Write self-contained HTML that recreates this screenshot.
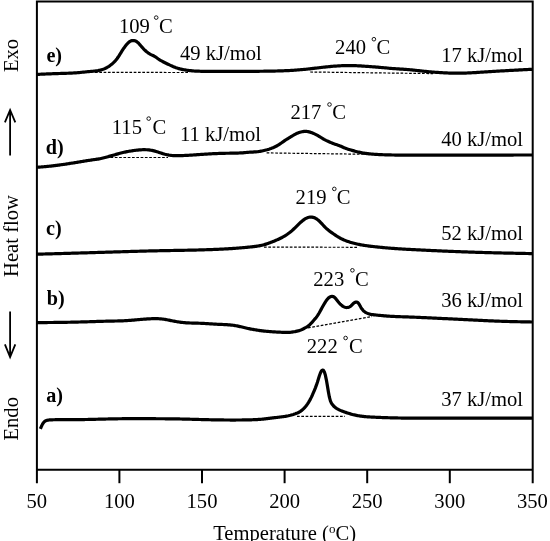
<!DOCTYPE html>
<html><head><meta charset="utf-8"><style>
html,body{margin:0;padding:0;background:#fff;width:550px;height:541px;overflow:hidden}
svg{display:block;filter:grayscale(1)}
</style></head><body>
<svg width="550" height="541" viewBox="0 0 550 541">
<rect width="550" height="541" fill="#fff"/>
<g stroke="#000" stroke-width="2" fill="none" stroke-linecap="butt">
<path d="M36.9 0.5 V483.2 M532.7 0.5 V483.2 M35.9 1.5 H533.7 M35.9 469.8 H533.7"/>
<path d="M119.4 469.8 V483.2"/>
<path d="M202.0 469.8 V483.2"/>
<path d="M284.6 469.8 V483.2"/>
<path d="M367.2 469.8 V483.2"/>
<path d="M449.8 469.8 V483.2"/>
</g>
<g stroke="#000" stroke-width="1.2" fill="none" stroke-dasharray="2.7 1.6">
<path d="M95.0 72.4 L188.0 72.5"/>
<path d="M310.2 72.0 L433.0 73.6"/>
<path d="M110.5 157.5 L168.0 157.5"/>
<path d="M266.6 152.9 L367.8 154.3"/>
<path d="M264.0 247.1 L358.0 247.3"/>
<path d="M308.0 327.8 L372.0 316.6"/>
<path d="M297.0 416.3 L345.0 416.3"/>
</g>
<g stroke="#000" stroke-width="3.2" fill="none" stroke-linejoin="round" stroke-linecap="butt">
<path d="M37.00 74.40 L37.50 74.38 L38.00 74.35 L38.50 74.33 L39.00 74.31 L39.50 74.28 L40.00 74.26 L40.50 74.23 L41.00 74.21 L41.50 74.19 L42.00 74.16 L42.50 74.14 L43.00 74.12 L43.50 74.10 L44.00 74.07 L44.50 74.05 L45.00 74.03 L45.50 74.01 L46.00 73.98 L46.50 73.96 L47.00 73.94 L48.00 73.90 L49.00 73.86 L50.00 73.82 L51.00 73.78 L52.00 73.74 L53.00 73.70 L54.00 73.67 L55.00 73.63 L56.00 73.60 L57.00 73.57 L58.00 73.54 L59.00 73.51 L60.00 73.48 L61.00 73.46 L62.00 73.43 L63.00 73.40 L64.00 73.37 L65.00 73.34 L66.00 73.31 L67.00 73.27 L68.00 73.23 L69.00 73.19 L70.00 73.15 L71.00 73.10 L72.00 73.05 L73.00 73.00 L74.00 72.94 L75.00 72.87 L76.00 72.80 L77.00 72.72 L78.00 72.64 L79.00 72.56 L80.00 72.47 L81.00 72.37 L82.00 72.28 L83.00 72.18 L84.00 72.08 L85.00 71.98 L86.00 71.88 L87.00 71.78 L88.00 71.69 L89.00 71.59 L90.00 71.50 L91.00 71.41 L92.00 71.32 L93.00 71.23 L94.00 71.13 L95.00 71.02 L96.00 70.89 L97.00 70.74 L98.00 70.58 L99.00 70.38 L100.00 70.16 L101.00 69.90 L102.00 69.61 L103.00 69.27 L104.00 68.89 L105.00 68.47 L106.00 68.00 L107.00 67.48 L108.00 66.91 L109.00 66.28 L110.00 65.59 L111.00 64.84 L112.00 64.03 L113.00 63.16 L114.00 62.20 L115.00 61.15 L116.00 59.99 L117.00 58.71 L118.00 57.30 L119.00 55.77 L120.00 54.18 L121.00 52.57 L122.00 50.97 L123.00 49.43 L124.00 47.96 L125.00 46.58 L126.00 45.27 L127.00 44.07 L128.00 42.99 L129.00 42.08 L130.00 41.38 L131.00 40.89 L132.00 40.61 L133.00 40.50 L134.00 40.56 L135.00 40.78 L136.00 41.21 L137.00 41.85 L138.00 42.70 L139.00 43.72 L140.00 44.83 L141.00 45.97 L142.00 47.12 L143.00 48.23 L144.00 49.30 L145.00 50.30 L146.00 51.22 L147.00 52.06 L148.00 52.82 L149.00 53.48 L150.00 54.08 L151.00 54.60 L152.00 55.08 L153.00 55.54 L154.00 56.03 L155.00 56.60 L156.00 57.28 L157.00 58.01 L158.00 58.76 L159.00 59.45 L160.00 60.08 L161.00 60.66 L162.00 61.20 L163.00 61.72 L164.00 62.22 L165.00 62.71 L166.00 63.20 L167.00 63.70 L168.00 64.19 L169.00 64.68 L170.00 65.17 L171.00 65.63 L172.00 66.07 L173.00 66.50 L174.00 66.90 L175.00 67.29 L176.00 67.67 L177.00 68.02 L178.00 68.35 L179.00 68.64 L180.00 68.91 L181.00 69.14 L182.00 69.36 L183.00 69.56 L184.00 69.74 L185.00 69.92 L186.00 70.08 L187.00 70.23 L188.00 70.36 L189.00 70.49 L190.00 70.61 L191.00 70.71 L192.00 70.80 L193.00 70.89 L194.00 70.97 L195.00 71.03 L196.00 71.09 L197.00 71.14 L198.00 71.19 L199.00 71.22 L200.00 71.26 L201.00 71.28 L202.00 71.30 L203.00 71.32 L204.00 71.33 L205.00 71.33 L206.00 71.34 L207.00 71.34 L208.00 71.34 L209.00 71.33 L210.00 71.33 L211.00 71.32 L212.00 71.32 L213.00 71.31 L214.00 71.30 L215.00 71.30 L216.00 71.30 L217.00 71.29 L218.00 71.29 L219.00 71.29 L220.00 71.30 L221.00 71.30 L222.00 71.30 L223.00 71.31 L224.00 71.31 L225.00 71.32 L226.00 71.32 L227.00 71.33 L228.00 71.34 L229.00 71.34 L230.00 71.35 L231.00 71.36 L232.00 71.36 L233.00 71.37 L234.00 71.38 L235.00 71.38 L236.00 71.39 L237.00 71.39 L238.00 71.40 L239.00 71.40 L240.00 71.40 L241.00 71.40 L242.00 71.40 L243.00 71.40 L244.00 71.40 L245.00 71.40 L246.00 71.39 L247.00 71.39 L248.00 71.38 L249.00 71.38 L250.00 71.37 L251.00 71.36 L252.00 71.35 L253.00 71.34 L254.00 71.33 L255.00 71.32 L256.00 71.31 L257.00 71.30 L258.00 71.29 L259.00 71.28 L260.00 71.27 L261.00 71.25 L262.00 71.24 L263.00 71.23 L264.00 71.21 L265.00 71.20 L266.00 71.19 L267.00 71.17 L268.00 71.16 L269.00 71.14 L270.00 71.13 L271.00 71.11 L272.00 71.09 L273.00 71.07 L274.00 71.05 L275.00 71.03 L276.00 71.01 L277.00 70.98 L278.00 70.96 L279.00 70.93 L280.00 70.90 L281.00 70.87 L282.00 70.83 L283.00 70.80 L284.00 70.76 L285.00 70.72 L286.00 70.68 L287.00 70.63 L288.00 70.58 L289.00 70.53 L290.00 70.48 L291.00 70.42 L292.00 70.36 L293.00 70.30 L294.00 70.23 L295.00 70.17 L296.00 70.09 L297.00 70.02 L298.00 69.94 L299.00 69.86 L300.00 69.78 L301.00 69.69 L302.00 69.60 L303.00 69.51 L304.00 69.41 L305.00 69.32 L306.00 69.22 L307.00 69.11 L308.00 69.01 L309.00 68.90 L310.00 68.79 L311.00 68.68 L312.00 68.56 L313.00 68.45 L314.00 68.33 L315.00 68.21 L316.00 68.09 L317.00 67.97 L318.00 67.85 L319.00 67.73 L320.00 67.61 L321.00 67.50 L322.00 67.38 L323.00 67.27 L324.00 67.16 L325.00 67.05 L326.00 66.94 L327.00 66.83 L328.00 66.73 L329.00 66.63 L330.00 66.54 L331.00 66.45 L332.00 66.36 L333.00 66.27 L334.00 66.19 L335.00 66.12 L336.00 66.04 L337.00 65.98 L338.00 65.91 L339.00 65.85 L340.00 65.80 L341.00 65.75 L342.00 65.71 L343.00 65.67 L344.00 65.64 L345.00 65.61 L346.00 65.59 L347.00 65.57 L348.00 65.56 L349.00 65.56 L350.00 65.56 L351.00 65.57 L352.00 65.59 L353.00 65.61 L354.00 65.64 L355.00 65.67 L356.00 65.71 L357.00 65.76 L358.00 65.80 L359.00 65.86 L360.00 65.91 L361.00 65.97 L362.00 66.04 L363.00 66.10 L364.00 66.17 L365.00 66.23 L366.00 66.30 L367.00 66.37 L368.00 66.44 L369.00 66.51 L370.00 66.58 L371.00 66.65 L372.00 66.73 L373.00 66.80 L374.00 66.88 L375.00 66.96 L376.00 67.04 L377.00 67.12 L378.00 67.20 L379.00 67.29 L380.00 67.38 L381.00 67.47 L382.00 67.56 L383.00 67.66 L384.00 67.75 L385.00 67.85 L386.00 67.94 L387.00 68.03 L388.00 68.13 L389.00 68.22 L390.00 68.30 L391.00 68.39 L392.00 68.47 L393.00 68.55 L394.00 68.63 L395.00 68.70 L396.00 68.77 L397.00 68.84 L398.00 68.90 L399.00 68.97 L400.00 69.03 L401.00 69.09 L402.00 69.16 L403.00 69.22 L404.00 69.29 L405.00 69.36 L406.00 69.43 L407.00 69.50 L408.00 69.58 L409.00 69.67 L410.00 69.76 L411.00 69.85 L412.00 69.95 L413.00 70.05 L414.00 70.16 L415.00 70.26 L416.00 70.37 L417.00 70.48 L418.00 70.59 L419.00 70.70 L420.00 70.81 L421.00 70.92 L422.00 71.03 L423.00 71.13 L424.00 71.24 L425.00 71.34 L426.00 71.44 L427.00 71.54 L428.00 71.63 L429.00 71.72 L430.00 71.81 L431.00 71.90 L432.00 71.99 L433.00 72.07 L434.00 72.15 L435.00 72.23 L436.00 72.31 L437.00 72.38 L438.00 72.45 L439.00 72.52 L440.00 72.59 L441.00 72.65 L442.00 72.71 L443.00 72.77 L444.00 72.82 L445.00 72.88 L446.00 72.92 L447.00 72.97 L448.00 73.01 L449.00 73.05 L450.00 73.08 L451.00 73.11 L452.00 73.14 L453.00 73.16 L454.00 73.18 L455.00 73.20 L456.00 73.21 L457.00 73.21 L458.00 73.21 L459.00 73.21 L460.00 73.20 L461.00 73.19 L462.00 73.17 L463.00 73.14 L464.00 73.12 L465.00 73.08 L466.00 73.05 L467.00 73.01 L468.00 72.97 L469.00 72.92 L470.00 72.87 L471.00 72.82 L472.00 72.77 L473.00 72.71 L474.00 72.65 L475.00 72.59 L476.00 72.53 L477.00 72.46 L478.00 72.40 L479.00 72.33 L480.00 72.27 L481.00 72.20 L482.00 72.13 L483.00 72.07 L484.00 72.00 L485.00 71.93 L486.00 71.87 L487.00 71.80 L488.00 71.74 L489.00 71.67 L490.00 71.61 L491.00 71.55 L492.00 71.49 L493.00 71.42 L494.00 71.36 L495.00 71.30 L496.00 71.24 L497.00 71.18 L498.00 71.13 L499.00 71.07 L500.00 71.01 L501.00 70.95 L502.00 70.90 L503.00 70.84 L504.00 70.78 L505.00 70.73 L506.00 70.67 L507.00 70.62 L508.00 70.56 L509.00 70.51 L510.00 70.45 L511.00 70.40 L512.00 70.34 L513.00 70.29 L514.00 70.24 L515.00 70.18 L516.00 70.13 L517.00 70.08 L518.00 70.03 L519.00 69.97 L520.00 69.92 L521.00 69.87 L522.00 69.82 L523.00 69.76 L524.00 69.71 L525.00 69.66 L526.00 69.61 L527.00 69.56 L528.00 69.51 L529.00 69.45 L530.00 69.40 L531.00 69.35 L532.00 69.30"/>
<path d="M37.00 167.30 L37.50 167.26 L38.00 167.22 L38.50 167.18 L39.00 167.14 L39.50 167.10 L40.00 167.06 L40.50 167.02 L41.00 166.98 L41.50 166.94 L42.00 166.89 L42.50 166.85 L43.00 166.81 L43.50 166.77 L44.00 166.72 L44.50 166.68 L45.00 166.63 L45.50 166.59 L46.00 166.54 L46.50 166.50 L47.00 166.45 L48.00 166.35 L49.00 166.26 L50.00 166.15 L51.00 166.05 L52.00 165.94 L53.00 165.82 L54.00 165.70 L55.00 165.58 L56.00 165.46 L57.00 165.33 L58.00 165.20 L59.00 165.07 L60.00 164.93 L61.00 164.79 L62.00 164.65 L63.00 164.51 L64.00 164.36 L65.00 164.21 L66.00 164.07 L67.00 163.91 L68.00 163.76 L69.00 163.61 L70.00 163.45 L71.00 163.29 L72.00 163.13 L73.00 162.97 L74.00 162.81 L75.00 162.65 L76.00 162.49 L77.00 162.33 L78.00 162.16 L79.00 162.00 L80.00 161.83 L81.00 161.67 L82.00 161.51 L83.00 161.34 L84.00 161.18 L85.00 161.01 L86.00 160.85 L87.00 160.69 L88.00 160.53 L89.00 160.38 L90.00 160.22 L91.00 160.07 L92.00 159.92 L93.00 159.77 L94.00 159.63 L95.00 159.49 L96.00 159.35 L97.00 159.20 L98.00 159.05 L99.00 158.88 L100.00 158.70 L101.00 158.50 L102.00 158.28 L103.00 158.04 L104.00 157.79 L105.00 157.53 L106.00 157.26 L107.00 156.98 L108.00 156.70 L109.00 156.41 L110.00 156.13 L111.00 155.84 L112.00 155.56 L113.00 155.27 L114.00 154.98 L115.00 154.70 L116.00 154.41 L117.00 154.13 L118.00 153.85 L119.00 153.57 L120.00 153.30 L121.00 153.04 L122.00 152.78 L123.00 152.54 L124.00 152.30 L125.00 152.08 L126.00 151.87 L127.00 151.66 L128.00 151.47 L129.00 151.29 L130.00 151.12 L131.00 150.96 L132.00 150.80 L133.00 150.66 L134.00 150.51 L135.00 150.38 L136.00 150.26 L137.00 150.14 L138.00 150.04 L139.00 149.94 L140.00 149.87 L141.00 149.80 L142.00 149.75 L143.00 149.72 L144.00 149.70 L145.00 149.70 L146.00 149.73 L147.00 149.77 L148.00 149.84 L149.00 149.94 L150.00 150.06 L151.00 150.21 L152.00 150.40 L153.00 150.62 L154.00 150.87 L155.00 151.15 L156.00 151.44 L157.00 151.75 L158.00 152.07 L159.00 152.40 L160.00 152.73 L161.00 153.05 L162.00 153.37 L163.00 153.68 L164.00 153.97 L165.00 154.25 L166.00 154.50 L167.00 154.73 L168.00 154.92 L169.00 155.10 L170.00 155.25 L171.00 155.37 L172.00 155.48 L173.00 155.56 L174.00 155.62 L175.00 155.67 L176.00 155.69 L177.00 155.70 L178.00 155.70 L179.00 155.68 L180.00 155.66 L181.00 155.63 L182.00 155.59 L183.00 155.55 L184.00 155.51 L185.00 155.46 L186.00 155.41 L187.00 155.35 L188.00 155.30 L189.00 155.24 L190.00 155.18 L191.00 155.11 L192.00 155.05 L193.00 154.98 L194.00 154.91 L195.00 154.84 L196.00 154.78 L197.00 154.71 L198.00 154.64 L199.00 154.57 L200.00 154.50 L201.00 154.43 L202.00 154.37 L203.00 154.30 L204.00 154.23 L205.00 154.17 L206.00 154.11 L207.00 154.05 L208.00 153.99 L209.00 153.93 L210.00 153.87 L211.00 153.82 L212.00 153.76 L213.00 153.71 L214.00 153.66 L215.00 153.62 L216.00 153.57 L217.00 153.53 L218.00 153.49 L219.00 153.45 L220.00 153.42 L221.00 153.39 L222.00 153.36 L223.00 153.33 L224.00 153.31 L225.00 153.29 L226.00 153.27 L227.00 153.26 L228.00 153.25 L229.00 153.24 L230.00 153.22 L231.00 153.21 L232.00 153.20 L233.00 153.18 L234.00 153.16 L235.00 153.14 L236.00 153.12 L237.00 153.09 L238.00 153.05 L239.00 153.01 L240.00 152.97 L241.00 152.91 L242.00 152.85 L243.00 152.78 L244.00 152.70 L245.00 152.61 L246.00 152.53 L247.00 152.44 L248.00 152.35 L249.00 152.27 L250.00 152.20 L251.00 152.14 L252.00 152.08 L253.00 152.03 L254.00 151.97 L255.00 151.90 L256.00 151.83 L257.00 151.73 L258.00 151.62 L259.00 151.48 L260.00 151.32 L261.00 151.14 L262.00 150.95 L263.00 150.74 L264.00 150.52 L265.00 150.28 L266.00 150.03 L267.00 149.77 L268.00 149.48 L269.00 149.18 L270.00 148.85 L271.00 148.50 L272.00 148.12 L273.00 147.71 L274.00 147.27 L275.00 146.80 L276.00 146.29 L277.00 145.75 L278.00 145.18 L279.00 144.56 L280.00 143.91 L281.00 143.23 L282.00 142.54 L283.00 141.83 L284.00 141.13 L285.00 140.43 L286.00 139.76 L287.00 139.12 L288.00 138.51 L289.00 137.91 L290.00 137.32 L291.00 136.72 L292.00 136.11 L293.00 135.49 L294.00 134.90 L295.00 134.33 L296.00 133.80 L297.00 133.32 L298.00 132.91 L299.00 132.55 L300.00 132.24 L301.00 131.98 L302.00 131.76 L303.00 131.59 L304.00 131.46 L305.00 131.40 L306.00 131.40 L307.00 131.46 L308.00 131.61 L309.00 131.83 L310.00 132.11 L311.00 132.44 L312.00 132.82 L313.00 133.22 L314.00 133.66 L315.00 134.12 L316.00 134.61 L317.00 135.13 L318.00 135.68 L319.00 136.28 L320.00 136.89 L321.00 137.52 L322.00 138.14 L323.00 138.75 L324.00 139.33 L325.00 139.86 L326.00 140.37 L327.00 140.85 L328.00 141.31 L329.00 141.76 L330.00 142.20 L331.00 142.63 L332.00 143.04 L333.00 143.44 L334.00 143.82 L335.00 144.17 L336.00 144.51 L337.00 144.83 L338.00 145.17 L339.00 145.52 L340.00 145.90 L341.00 146.32 L342.00 146.78 L343.00 147.23 L344.00 147.68 L345.00 148.11 L346.00 148.49 L347.00 148.85 L348.00 149.18 L349.00 149.49 L350.00 149.79 L351.00 150.08 L352.00 150.36 L353.00 150.63 L354.00 150.91 L355.00 151.18 L356.00 151.44 L357.00 151.70 L358.00 151.94 L359.00 152.18 L360.00 152.40 L361.00 152.61 L362.00 152.80 L363.00 152.98 L364.00 153.15 L365.00 153.30 L366.00 153.45 L367.00 153.58 L368.00 153.70 L369.00 153.80 L370.00 153.90 L371.00 153.99 L372.00 154.08 L373.00 154.16 L374.00 154.23 L375.00 154.30 L376.00 154.36 L377.00 154.43 L378.00 154.48 L379.00 154.54 L380.00 154.59 L381.00 154.64 L382.00 154.68 L383.00 154.73 L384.00 154.77 L385.00 154.80 L386.00 154.84 L387.00 154.87 L388.00 154.89 L389.00 154.92 L390.00 154.94 L391.00 154.97 L392.00 154.99 L393.00 155.00 L394.00 155.02 L395.00 155.03 L396.00 155.04 L397.00 155.05 L398.00 155.06 L399.00 155.07 L400.00 155.08 L401.00 155.08 L402.00 155.09 L403.00 155.09 L404.00 155.09 L405.00 155.10 L406.00 155.10 L407.00 155.10 L408.00 155.10 L409.00 155.10 L410.00 155.10 L411.00 155.10 L412.00 155.10 L413.00 155.10 L414.00 155.10 L415.00 155.10 L416.00 155.10 L417.00 155.10 L418.00 155.10 L419.00 155.10 L420.00 155.10 L421.00 155.10 L422.00 155.10 L423.00 155.10 L424.00 155.10 L425.00 155.10 L426.00 155.10 L427.00 155.10 L428.00 155.10 L429.00 155.10 L430.00 155.10 L431.00 155.10 L432.00 155.10 L433.00 155.10 L434.00 155.10 L435.00 155.10 L436.00 155.10 L437.00 155.10 L438.00 155.10 L439.00 155.10 L440.00 155.10 L441.00 155.10 L442.00 155.10 L443.00 155.10 L444.00 155.10 L445.00 155.09 L446.00 155.09 L447.00 155.09 L448.00 155.09 L449.00 155.09 L450.00 155.09 L451.00 155.09 L452.00 155.09 L453.00 155.09 L454.00 155.09 L455.00 155.09 L456.00 155.09 L457.00 155.09 L458.00 155.09 L459.00 155.09 L460.00 155.08 L461.00 155.08 L462.00 155.08 L463.00 155.08 L464.00 155.08 L465.00 155.08 L466.00 155.08 L467.00 155.08 L468.00 155.08 L469.00 155.08 L470.00 155.08 L471.00 155.07 L472.00 155.07 L473.00 155.07 L474.00 155.07 L475.00 155.07 L476.00 155.07 L477.00 155.07 L478.00 155.07 L479.00 155.07 L480.00 155.07 L481.00 155.06 L482.00 155.06 L483.00 155.06 L484.00 155.06 L485.00 155.06 L486.00 155.06 L487.00 155.06 L488.00 155.06 L489.00 155.06 L490.00 155.05 L491.00 155.05 L492.00 155.05 L493.00 155.05 L494.00 155.05 L495.00 155.05 L496.00 155.05 L497.00 155.05 L498.00 155.04 L499.00 155.04 L500.00 155.04 L501.00 155.04 L502.00 155.04 L503.00 155.04 L504.00 155.04 L505.00 155.04 L506.00 155.03 L507.00 155.03 L508.00 155.03 L509.00 155.03 L510.00 155.03 L511.00 155.03 L512.00 155.03 L513.00 155.03 L514.00 155.02 L515.00 155.02 L516.00 155.02 L517.00 155.02 L518.00 155.02 L519.00 155.02 L520.00 155.02 L521.00 155.01 L522.00 155.01 L523.00 155.01 L524.00 155.01 L525.00 155.01 L526.00 155.01 L527.00 155.01 L528.00 155.01 L529.00 155.00 L530.00 155.00 L531.00 155.00 L532.00 155.00"/>
<path d="M37.00 254.20 L37.50 254.19 L38.00 254.17 L38.50 254.16 L39.00 254.14 L39.50 254.13 L40.00 254.12 L40.50 254.10 L41.00 254.09 L41.50 254.08 L42.00 254.06 L42.50 254.05 L43.00 254.03 L43.50 254.02 L44.00 254.01 L44.50 253.99 L45.00 253.98 L45.50 253.96 L46.00 253.95 L46.50 253.94 L47.00 253.92 L48.00 253.90 L49.00 253.87 L50.00 253.84 L51.00 253.81 L52.00 253.78 L53.00 253.76 L54.00 253.73 L55.00 253.70 L56.00 253.67 L57.00 253.64 L58.00 253.62 L59.00 253.59 L60.00 253.56 L61.00 253.53 L62.00 253.50 L63.00 253.48 L64.00 253.45 L65.00 253.42 L66.00 253.39 L67.00 253.36 L68.00 253.34 L69.00 253.31 L70.00 253.28 L71.00 253.25 L72.00 253.22 L73.00 253.19 L74.00 253.16 L75.00 253.14 L76.00 253.11 L77.00 253.08 L78.00 253.05 L79.00 253.02 L80.00 252.99 L81.00 252.96 L82.00 252.93 L83.00 252.90 L84.00 252.88 L85.00 252.85 L86.00 252.82 L87.00 252.79 L88.00 252.76 L89.00 252.73 L90.00 252.70 L91.00 252.67 L92.00 252.64 L93.00 252.61 L94.00 252.58 L95.00 252.55 L96.00 252.52 L97.00 252.49 L98.00 252.46 L99.00 252.43 L100.00 252.40 L101.00 252.37 L102.00 252.34 L103.00 252.31 L104.00 252.28 L105.00 252.25 L106.00 252.22 L107.00 252.19 L108.00 252.16 L109.00 252.12 L110.00 252.09 L111.00 252.06 L112.00 252.03 L113.00 252.00 L114.00 251.97 L115.00 251.94 L116.00 251.91 L117.00 251.88 L118.00 251.85 L119.00 251.82 L120.00 251.79 L121.00 251.76 L122.00 251.73 L123.00 251.70 L124.00 251.67 L125.00 251.64 L126.00 251.61 L127.00 251.58 L128.00 251.55 L129.00 251.52 L130.00 251.49 L131.00 251.46 L132.00 251.43 L133.00 251.40 L134.00 251.37 L135.00 251.34 L136.00 251.31 L137.00 251.29 L138.00 251.26 L139.00 251.23 L140.00 251.20 L141.00 251.18 L142.00 251.15 L143.00 251.12 L144.00 251.10 L145.00 251.07 L146.00 251.04 L147.00 251.02 L148.00 250.99 L149.00 250.97 L150.00 250.94 L151.00 250.92 L152.00 250.90 L153.00 250.87 L154.00 250.85 L155.00 250.83 L156.00 250.80 L157.00 250.78 L158.00 250.76 L159.00 250.74 L160.00 250.72 L161.00 250.70 L162.00 250.68 L163.00 250.66 L164.00 250.64 L165.00 250.62 L166.00 250.60 L167.00 250.58 L168.00 250.56 L169.00 250.55 L170.00 250.53 L171.00 250.51 L172.00 250.50 L173.00 250.48 L174.00 250.46 L175.00 250.45 L176.00 250.43 L177.00 250.41 L178.00 250.40 L179.00 250.38 L180.00 250.36 L181.00 250.35 L182.00 250.33 L183.00 250.31 L184.00 250.29 L185.00 250.27 L186.00 250.25 L187.00 250.23 L188.00 250.21 L189.00 250.19 L190.00 250.17 L191.00 250.15 L192.00 250.13 L193.00 250.10 L194.00 250.08 L195.00 250.05 L196.00 250.03 L197.00 250.00 L198.00 249.98 L199.00 249.95 L200.00 249.92 L201.00 249.89 L202.00 249.86 L203.00 249.84 L204.00 249.81 L205.00 249.77 L206.00 249.74 L207.00 249.71 L208.00 249.68 L209.00 249.64 L210.00 249.61 L211.00 249.57 L212.00 249.54 L213.00 249.50 L214.00 249.46 L215.00 249.42 L216.00 249.38 L217.00 249.34 L218.00 249.29 L219.00 249.25 L220.00 249.20 L221.00 249.16 L222.00 249.11 L223.00 249.06 L224.00 249.01 L225.00 248.95 L226.00 248.90 L227.00 248.84 L228.00 248.78 L229.00 248.72 L230.00 248.66 L231.00 248.59 L232.00 248.53 L233.00 248.46 L234.00 248.39 L235.00 248.32 L236.00 248.24 L237.00 248.17 L238.00 248.09 L239.00 248.01 L240.00 247.93 L241.00 247.84 L242.00 247.76 L243.00 247.67 L244.00 247.58 L245.00 247.49 L246.00 247.39 L247.00 247.30 L248.00 247.20 L249.00 247.10 L250.00 247.00 L251.00 246.90 L252.00 246.79 L253.00 246.68 L254.00 246.56 L255.00 246.44 L256.00 246.30 L257.00 246.15 L258.00 245.99 L259.00 245.82 L260.00 245.63 L261.00 245.43 L262.00 245.20 L263.00 244.95 L264.00 244.69 L265.00 244.41 L266.00 244.11 L267.00 243.79 L268.00 243.46 L269.00 243.11 L270.00 242.74 L271.00 242.37 L272.00 241.98 L273.00 241.58 L274.00 241.17 L275.00 240.75 L276.00 240.32 L277.00 239.88 L278.00 239.43 L279.00 238.97 L280.00 238.49 L281.00 238.00 L282.00 237.49 L283.00 236.95 L284.00 236.38 L285.00 235.79 L286.00 235.17 L287.00 234.51 L288.00 233.81 L289.00 233.08 L290.00 232.30 L291.00 231.48 L292.00 230.62 L293.00 229.72 L294.00 228.78 L295.00 227.83 L296.00 226.85 L297.00 225.87 L298.00 224.89 L299.00 223.92 L300.00 222.96 L301.00 222.04 L302.00 221.17 L303.00 220.35 L304.00 219.61 L305.00 218.95 L306.00 218.38 L307.00 217.91 L308.00 217.54 L309.00 217.28 L310.00 217.12 L311.00 217.07 L312.00 217.13 L313.00 217.31 L314.00 217.60 L315.00 218.01 L316.00 218.54 L317.00 219.18 L318.00 219.93 L319.00 220.81 L320.00 221.77 L321.00 222.81 L322.00 223.89 L323.00 224.98 L324.00 226.06 L325.00 227.10 L326.00 228.08 L327.00 228.99 L328.00 229.84 L329.00 230.64 L330.00 231.40 L331.00 232.14 L332.00 232.85 L333.00 233.55 L334.00 234.24 L335.00 234.92 L336.00 235.58 L337.00 236.23 L338.00 236.85 L339.00 237.45 L340.00 238.01 L341.00 238.54 L342.00 239.05 L343.00 239.52 L344.00 239.97 L345.00 240.39 L346.00 240.79 L347.00 241.16 L348.00 241.52 L349.00 241.86 L350.00 242.18 L351.00 242.48 L352.00 242.77 L353.00 243.04 L354.00 243.30 L355.00 243.55 L356.00 243.79 L357.00 244.01 L358.00 244.23 L359.00 244.43 L360.00 244.63 L361.00 244.82 L362.00 245.00 L363.00 245.17 L364.00 245.34 L365.00 245.49 L366.00 245.64 L367.00 245.78 L368.00 245.92 L369.00 246.05 L370.00 246.18 L371.00 246.30 L372.00 246.42 L373.00 246.53 L374.00 246.64 L375.00 246.75 L376.00 246.86 L377.00 246.96 L378.00 247.06 L379.00 247.16 L380.00 247.26 L381.00 247.36 L382.00 247.46 L383.00 247.55 L384.00 247.64 L385.00 247.73 L386.00 247.82 L387.00 247.91 L388.00 247.99 L389.00 248.07 L390.00 248.16 L391.00 248.24 L392.00 248.31 L393.00 248.39 L394.00 248.46 L395.00 248.54 L396.00 248.61 L397.00 248.68 L398.00 248.74 L399.00 248.81 L400.00 248.87 L401.00 248.94 L402.00 249.00 L403.00 249.06 L404.00 249.12 L405.00 249.18 L406.00 249.24 L407.00 249.29 L408.00 249.35 L409.00 249.40 L410.00 249.46 L411.00 249.51 L412.00 249.56 L413.00 249.62 L414.00 249.67 L415.00 249.72 L416.00 249.77 L417.00 249.82 L418.00 249.87 L419.00 249.92 L420.00 249.97 L421.00 250.02 L422.00 250.07 L423.00 250.12 L424.00 250.17 L425.00 250.22 L426.00 250.26 L427.00 250.31 L428.00 250.36 L429.00 250.41 L430.00 250.45 L431.00 250.50 L432.00 250.54 L433.00 250.59 L434.00 250.63 L435.00 250.68 L436.00 250.72 L437.00 250.77 L438.00 250.81 L439.00 250.86 L440.00 250.90 L441.00 250.94 L442.00 250.99 L443.00 251.03 L444.00 251.07 L445.00 251.11 L446.00 251.16 L447.00 251.20 L448.00 251.24 L449.00 251.28 L450.00 251.32 L451.00 251.36 L452.00 251.40 L453.00 251.44 L454.00 251.48 L455.00 251.52 L456.00 251.56 L457.00 251.60 L458.00 251.64 L459.00 251.68 L460.00 251.72 L461.00 251.75 L462.00 251.79 L463.00 251.83 L464.00 251.86 L465.00 251.90 L466.00 251.94 L467.00 251.97 L468.00 252.01 L469.00 252.04 L470.00 252.08 L471.00 252.11 L472.00 252.14 L473.00 252.18 L474.00 252.21 L475.00 252.24 L476.00 252.28 L477.00 252.31 L478.00 252.34 L479.00 252.37 L480.00 252.40 L481.00 252.43 L482.00 252.46 L483.00 252.49 L484.00 252.52 L485.00 252.55 L486.00 252.57 L487.00 252.60 L488.00 252.63 L489.00 252.66 L490.00 252.68 L491.00 252.71 L492.00 252.74 L493.00 252.76 L494.00 252.79 L495.00 252.81 L496.00 252.84 L497.00 252.86 L498.00 252.89 L499.00 252.91 L500.00 252.93 L501.00 252.96 L502.00 252.98 L503.00 253.00 L504.00 253.03 L505.00 253.05 L506.00 253.07 L507.00 253.09 L508.00 253.11 L509.00 253.14 L510.00 253.16 L511.00 253.18 L512.00 253.20 L513.00 253.22 L514.00 253.24 L515.00 253.26 L516.00 253.28 L517.00 253.30 L518.00 253.32 L519.00 253.34 L520.00 253.36 L521.00 253.38 L522.00 253.40 L523.00 253.42 L524.00 253.44 L525.00 253.46 L526.00 253.48 L527.00 253.50 L528.00 253.52 L529.00 253.54 L530.00 253.56 L531.00 253.58 L532.00 253.60"/>
<path d="M37.00 322.60 L37.50 322.60 L38.00 322.59 L38.50 322.59 L39.00 322.59 L39.50 322.58 L40.00 322.58 L40.50 322.58 L41.00 322.57 L41.50 322.57 L42.00 322.57 L42.50 322.56 L43.00 322.56 L43.50 322.56 L44.00 322.55 L44.50 322.55 L45.00 322.55 L45.50 322.54 L46.00 322.54 L46.50 322.53 L47.00 322.53 L48.00 322.52 L49.00 322.51 L50.00 322.51 L51.00 322.50 L52.00 322.49 L53.00 322.48 L54.00 322.47 L55.00 322.46 L56.00 322.44 L57.00 322.43 L58.00 322.42 L59.00 322.41 L60.00 322.39 L61.00 322.38 L62.00 322.37 L63.00 322.35 L64.00 322.33 L65.00 322.32 L66.00 322.30 L67.00 322.28 L68.00 322.26 L69.00 322.24 L70.00 322.23 L71.00 322.20 L72.00 322.18 L73.00 322.16 L74.00 322.14 L75.00 322.12 L76.00 322.09 L77.00 322.07 L78.00 322.04 L79.00 322.02 L80.00 321.99 L81.00 321.96 L82.00 321.94 L83.00 321.91 L84.00 321.88 L85.00 321.85 L86.00 321.82 L87.00 321.79 L88.00 321.76 L89.00 321.73 L90.00 321.70 L91.00 321.66 L92.00 321.63 L93.00 321.60 L94.00 321.57 L95.00 321.54 L96.00 321.51 L97.00 321.47 L98.00 321.44 L99.00 321.41 L100.00 321.38 L101.00 321.36 L102.00 321.33 L103.00 321.30 L104.00 321.27 L105.00 321.25 L106.00 321.22 L107.00 321.20 L108.00 321.17 L109.00 321.15 L110.00 321.13 L111.00 321.11 L112.00 321.09 L113.00 321.07 L114.00 321.05 L115.00 321.02 L116.00 321.00 L117.00 320.98 L118.00 320.95 L119.00 320.92 L120.00 320.89 L121.00 320.86 L122.00 320.82 L123.00 320.78 L124.00 320.74 L125.00 320.69 L126.00 320.63 L127.00 320.58 L128.00 320.51 L129.00 320.44 L130.00 320.37 L131.00 320.29 L132.00 320.21 L133.00 320.12 L134.00 320.04 L135.00 319.95 L136.00 319.86 L137.00 319.77 L138.00 319.68 L139.00 319.59 L140.00 319.50 L141.00 319.42 L142.00 319.33 L143.00 319.25 L144.00 319.18 L145.00 319.11 L146.00 319.04 L147.00 318.97 L148.00 318.91 L149.00 318.85 L150.00 318.80 L151.00 318.75 L152.00 318.71 L153.00 318.68 L154.00 318.66 L155.00 318.64 L156.00 318.65 L157.00 318.66 L158.00 318.70 L159.00 318.75 L160.00 318.83 L161.00 318.91 L162.00 319.02 L163.00 319.14 L164.00 319.28 L165.00 319.43 L166.00 319.60 L167.00 319.78 L168.00 319.97 L169.00 320.17 L170.00 320.37 L171.00 320.57 L172.00 320.78 L173.00 320.98 L174.00 321.18 L175.00 321.37 L176.00 321.55 L177.00 321.72 L178.00 321.88 L179.00 322.03 L180.00 322.17 L181.00 322.30 L182.00 322.42 L183.00 322.53 L184.00 322.63 L185.00 322.71 L186.00 322.78 L187.00 322.84 L188.00 322.90 L189.00 322.95 L190.00 322.99 L191.00 323.02 L192.00 323.06 L193.00 323.08 L194.00 323.11 L195.00 323.13 L196.00 323.16 L197.00 323.18 L198.00 323.21 L199.00 323.24 L200.00 323.27 L201.00 323.30 L202.00 323.35 L203.00 323.39 L204.00 323.44 L205.00 323.50 L206.00 323.55 L207.00 323.61 L208.00 323.68 L209.00 323.74 L210.00 323.81 L211.00 323.87 L212.00 323.94 L213.00 324.00 L214.00 324.06 L215.00 324.12 L216.00 324.18 L217.00 324.24 L218.00 324.29 L219.00 324.34 L220.00 324.38 L221.00 324.43 L222.00 324.47 L223.00 324.51 L224.00 324.56 L225.00 324.61 L226.00 324.66 L227.00 324.72 L228.00 324.79 L229.00 324.86 L230.00 324.95 L231.00 325.04 L232.00 325.15 L233.00 325.27 L234.00 325.41 L235.00 325.56 L236.00 325.73 L237.00 325.91 L238.00 326.12 L239.00 326.34 L240.00 326.57 L241.00 326.81 L242.00 327.05 L243.00 327.30 L244.00 327.54 L245.00 327.78 L246.00 328.02 L247.00 328.24 L248.00 328.46 L249.00 328.67 L250.00 328.87 L251.00 329.07 L252.00 329.26 L253.00 329.44 L254.00 329.61 L255.00 329.78 L256.00 329.95 L257.00 330.11 L258.00 330.26 L259.00 330.41 L260.00 330.55 L261.00 330.68 L262.00 330.81 L263.00 330.93 L264.00 331.04 L265.00 331.15 L266.00 331.25 L267.00 331.35 L268.00 331.44 L269.00 331.52 L270.00 331.60 L271.00 331.68 L272.00 331.75 L273.00 331.82 L274.00 331.89 L275.00 331.95 L276.00 332.01 L277.00 332.06 L278.00 332.12 L279.00 332.17 L280.00 332.22 L281.00 332.26 L282.00 332.31 L283.00 332.35 L284.00 332.38 L285.00 332.41 L286.00 332.42 L287.00 332.42 L288.00 332.40 L289.00 332.36 L290.00 332.30 L291.00 332.21 L292.00 332.09 L293.00 331.95 L294.00 331.79 L295.00 331.61 L296.00 331.40 L297.00 331.17 L298.00 330.92 L299.00 330.63 L300.00 330.29 L301.00 329.90 L302.00 329.45 L303.00 328.97 L304.00 328.46 L305.00 327.94 L306.00 327.41 L307.00 326.82 L308.00 326.16 L309.00 325.39 L310.00 324.47 L311.00 323.44 L312.00 322.34 L313.00 321.18 L314.00 320.02 L315.00 318.86 L316.00 317.67 L317.00 316.37 L318.00 314.89 L319.00 313.23 L320.00 311.45 L321.00 309.64 L322.00 307.82 L323.00 306.03 L324.00 304.27 L325.00 302.58 L326.00 301.00 L327.00 299.60 L328.00 298.44 L329.00 297.54 L330.00 296.90 L331.00 296.51 L332.00 296.36 L333.00 296.53 L334.00 297.04 L335.00 297.86 L336.00 298.93 L337.00 300.19 L338.00 301.51 L339.00 302.76 L340.00 303.85 L341.00 304.79 L342.00 305.62 L343.00 306.32 L344.00 306.88 L345.00 307.27 L346.00 307.48 L347.00 307.53 L348.00 307.44 L349.00 307.19 L350.00 306.69 L351.00 305.87 L352.00 304.83 L353.00 303.78 L354.00 302.94 L355.00 302.39 L356.00 302.12 L357.00 302.15 L358.00 302.69 L359.00 303.96 L360.00 305.77 L361.00 307.57 L362.00 309.11 L363.00 310.34 L364.00 311.29 L365.00 312.03 L366.00 312.62 L367.00 313.12 L368.00 313.52 L369.00 313.86 L370.00 314.13 L371.00 314.36 L372.00 314.54 L373.00 314.69 L374.00 314.82 L375.00 314.93 L376.00 315.02 L377.00 315.12 L378.00 315.22 L379.00 315.31 L380.00 315.41 L381.00 315.51 L382.00 315.61 L383.00 315.70 L384.00 315.79 L385.00 315.88 L386.00 315.96 L387.00 316.03 L388.00 316.10 L389.00 316.17 L390.00 316.24 L391.00 316.29 L392.00 316.35 L393.00 316.40 L394.00 316.45 L395.00 316.50 L396.00 316.54 L397.00 316.59 L398.00 316.63 L399.00 316.66 L400.00 316.70 L401.00 316.73 L402.00 316.77 L403.00 316.80 L404.00 316.83 L405.00 316.87 L406.00 316.90 L407.00 316.93 L408.00 316.97 L409.00 317.00 L410.00 317.04 L411.00 317.07 L412.00 317.11 L413.00 317.15 L414.00 317.19 L415.00 317.23 L416.00 317.27 L417.00 317.31 L418.00 317.35 L419.00 317.40 L420.00 317.44 L421.00 317.48 L422.00 317.53 L423.00 317.58 L424.00 317.62 L425.00 317.67 L426.00 317.72 L427.00 317.76 L428.00 317.81 L429.00 317.86 L430.00 317.91 L431.00 317.96 L432.00 318.00 L433.00 318.05 L434.00 318.10 L435.00 318.15 L436.00 318.20 L437.00 318.25 L438.00 318.30 L439.00 318.34 L440.00 318.39 L441.00 318.44 L442.00 318.49 L443.00 318.53 L444.00 318.58 L445.00 318.63 L446.00 318.68 L447.00 318.72 L448.00 318.77 L449.00 318.82 L450.00 318.87 L451.00 318.91 L452.00 318.96 L453.00 319.01 L454.00 319.06 L455.00 319.10 L456.00 319.15 L457.00 319.20 L458.00 319.25 L459.00 319.30 L460.00 319.34 L461.00 319.39 L462.00 319.44 L463.00 319.49 L464.00 319.54 L465.00 319.59 L466.00 319.64 L467.00 319.69 L468.00 319.74 L469.00 319.79 L470.00 319.84 L471.00 319.89 L472.00 319.94 L473.00 320.00 L474.00 320.05 L475.00 320.10 L476.00 320.15 L477.00 320.20 L478.00 320.25 L479.00 320.30 L480.00 320.35 L481.00 320.41 L482.00 320.46 L483.00 320.50 L484.00 320.55 L485.00 320.60 L486.00 320.65 L487.00 320.70 L488.00 320.74 L489.00 320.79 L490.00 320.84 L491.00 320.88 L492.00 320.92 L493.00 320.97 L494.00 321.01 L495.00 321.05 L496.00 321.09 L497.00 321.13 L498.00 321.16 L499.00 321.20 L500.00 321.24 L501.00 321.27 L502.00 321.30 L503.00 321.34 L504.00 321.37 L505.00 321.40 L506.00 321.43 L507.00 321.46 L508.00 321.48 L509.00 321.51 L510.00 321.54 L511.00 321.56 L512.00 321.59 L513.00 321.61 L514.00 321.64 L515.00 321.66 L516.00 321.68 L517.00 321.71 L518.00 321.73 L519.00 321.75 L520.00 321.77 L521.00 321.79 L522.00 321.81 L523.00 321.83 L524.00 321.85 L525.00 321.87 L526.00 321.89 L527.00 321.91 L528.00 321.93 L529.00 321.94 L530.00 321.96 L531.00 321.98 L532.00 322.00"/>
<path d="M40.40 428.90 L40.90 427.68 L41.40 426.50 L41.90 425.39 L42.40 424.39 L42.90 423.52 L43.40 422.79 L43.90 422.18 L44.40 421.68 L44.90 421.27 L45.40 420.94 L45.90 420.68 L46.40 420.48 L46.90 420.33 L47.40 420.21 L47.90 420.12 L48.40 420.04 L48.90 419.98 L49.40 419.93 L49.90 419.89 L50.40 419.86 L51.40 419.82 L52.40 419.79 L53.40 419.76 L54.40 419.74 L55.40 419.71 L56.40 419.69 L57.40 419.68 L58.40 419.66 L59.40 419.65 L60.40 419.64 L61.40 419.64 L62.40 419.63 L63.40 419.63 L64.40 419.62 L65.40 419.62 L66.40 419.62 L67.40 419.62 L68.40 419.62 L69.40 419.62 L70.40 419.62 L71.40 419.62 L72.40 419.62 L73.40 419.62 L74.40 419.62 L75.40 419.62 L76.40 419.62 L77.40 419.61 L78.40 419.61 L79.40 419.60 L80.40 419.59 L81.40 419.58 L82.40 419.57 L83.40 419.56 L84.40 419.54 L85.40 419.52 L86.40 419.51 L87.40 419.49 L88.40 419.47 L89.40 419.45 L90.40 419.42 L91.40 419.40 L92.40 419.38 L93.40 419.35 L94.40 419.33 L95.40 419.30 L96.40 419.27 L97.40 419.25 L98.40 419.22 L99.40 419.19 L100.40 419.16 L101.40 419.14 L102.40 419.11 L103.40 419.08 L104.40 419.06 L105.40 419.03 L106.40 419.01 L107.40 418.98 L108.40 418.96 L109.40 418.93 L110.40 418.91 L111.40 418.89 L112.40 418.87 L113.40 418.85 L114.40 418.83 L115.40 418.81 L116.40 418.79 L117.40 418.78 L118.40 418.77 L119.40 418.75 L120.40 418.74 L121.40 418.73 L122.40 418.72 L123.40 418.72 L124.40 418.71 L125.40 418.71 L126.40 418.70 L127.40 418.70 L128.40 418.69 L129.40 418.69 L130.40 418.69 L131.40 418.69 L132.40 418.69 L133.40 418.69 L134.40 418.69 L135.40 418.69 L136.40 418.69 L137.40 418.69 L138.40 418.69 L139.40 418.69 L140.40 418.70 L141.40 418.70 L142.40 418.70 L143.40 418.70 L144.40 418.70 L145.40 418.70 L146.40 418.71 L147.40 418.71 L148.40 418.71 L149.40 418.71 L150.40 418.71 L151.40 418.71 L152.40 418.72 L153.40 418.72 L154.40 418.72 L155.40 418.72 L156.40 418.73 L157.40 418.73 L158.40 418.74 L159.40 418.74 L160.40 418.75 L161.40 418.75 L162.40 418.76 L163.40 418.76 L164.40 418.77 L165.40 418.78 L166.40 418.79 L167.40 418.80 L168.40 418.81 L169.40 418.82 L170.40 418.83 L171.40 418.84 L172.40 418.85 L173.40 418.87 L174.40 418.88 L175.40 418.90 L176.40 418.92 L177.40 418.94 L178.40 418.95 L179.40 418.97 L180.40 419.00 L181.40 419.02 L182.40 419.04 L183.40 419.06 L184.40 419.09 L185.40 419.11 L186.40 419.13 L187.40 419.16 L188.40 419.19 L189.40 419.21 L190.40 419.24 L191.40 419.26 L192.40 419.29 L193.40 419.32 L194.40 419.35 L195.40 419.37 L196.40 419.40 L197.40 419.43 L198.40 419.45 L199.40 419.48 L200.40 419.51 L201.40 419.53 L202.40 419.56 L203.40 419.59 L204.40 419.61 L205.40 419.64 L206.40 419.66 L207.40 419.69 L208.40 419.71 L209.40 419.73 L210.40 419.75 L211.40 419.78 L212.40 419.80 L213.40 419.82 L214.40 419.84 L215.40 419.86 L216.40 419.87 L217.40 419.89 L218.40 419.91 L219.40 419.92 L220.40 419.94 L221.40 419.95 L222.40 419.96 L223.40 419.97 L224.40 419.98 L225.40 419.99 L226.40 420.00 L227.40 420.01 L228.40 420.02 L229.40 420.02 L230.40 420.03 L231.40 420.03 L232.40 420.03 L233.40 420.03 L234.40 420.03 L235.40 420.03 L236.40 420.02 L237.40 420.02 L238.40 420.01 L239.40 420.01 L240.40 420.00 L241.40 419.99 L242.40 419.97 L243.40 419.96 L244.40 419.94 L245.40 419.93 L246.40 419.91 L247.40 419.89 L248.40 419.87 L249.40 419.84 L250.40 419.81 L251.40 419.79 L252.40 419.75 L253.40 419.72 L254.40 419.68 L255.40 419.64 L256.40 419.59 L257.40 419.53 L258.40 419.47 L259.40 419.40 L260.40 419.32 L261.40 419.24 L262.40 419.14 L263.40 419.04 L264.40 418.92 L265.40 418.80 L266.40 418.68 L267.40 418.55 L268.40 418.43 L269.40 418.30 L270.40 418.17 L271.40 418.05 L272.40 417.93 L273.40 417.82 L274.40 417.71 L275.40 417.60 L276.40 417.49 L277.40 417.38 L278.40 417.26 L279.40 417.15 L280.40 417.03 L281.40 416.90 L282.40 416.77 L283.40 416.63 L284.40 416.48 L285.40 416.32 L286.40 416.15 L287.40 415.97 L288.40 415.77 L289.40 415.54 L290.40 415.30 L291.40 415.03 L292.40 414.74 L293.40 414.43 L294.40 414.09 L295.40 413.73 L296.40 413.34 L297.40 412.93 L298.40 412.47 L299.40 411.96 L300.40 411.36 L301.40 410.67 L302.40 409.86 L303.40 408.93 L304.40 407.88 L305.40 406.72 L306.40 405.47 L307.40 404.10 L308.40 402.60 L309.40 400.94 L310.40 399.12 L311.40 397.12 L312.40 394.97 L313.40 392.68 L314.40 390.30 L315.40 387.82 L316.40 385.15 L317.40 382.18 L318.40 378.93 L319.40 375.75 L320.40 373.01 L321.40 371.02 L322.40 370.05 L323.40 370.34 L324.40 372.04 L325.40 375.30 L326.40 380.07 L327.40 385.86 L328.40 391.88 L329.40 397.20 L330.40 400.88 L331.40 403.08 L332.40 404.55 L333.40 405.75 L334.40 406.75 L335.40 407.59 L336.40 408.30 L337.40 408.92 L338.40 409.45 L339.40 409.93 L340.40 410.37 L341.40 410.77 L342.40 411.15 L343.40 411.53 L344.40 411.90 L345.40 412.26 L346.40 412.62 L347.40 412.95 L348.40 413.28 L349.40 413.59 L350.40 413.89 L351.40 414.17 L352.40 414.44 L353.40 414.69 L354.40 414.93 L355.40 415.15 L356.40 415.36 L357.40 415.56 L358.40 415.74 L359.40 415.91 L360.40 416.06 L361.40 416.20 L362.40 416.33 L363.40 416.45 L364.40 416.56 L365.40 416.65 L366.40 416.74 L367.40 416.82 L368.40 416.90 L369.40 416.96 L370.40 417.02 L371.40 417.08 L372.40 417.13 L373.40 417.17 L374.40 417.22 L375.40 417.26 L376.40 417.30 L377.40 417.34 L378.40 417.38 L379.40 417.42 L380.40 417.46 L381.40 417.49 L382.40 417.53 L383.40 417.57 L384.40 417.60 L385.40 417.64 L386.40 417.67 L387.40 417.70 L388.40 417.73 L389.40 417.76 L390.40 417.79 L391.40 417.82 L392.40 417.85 L393.40 417.87 L394.40 417.90 L395.40 417.92 L396.40 417.94 L397.40 417.96 L398.40 417.98 L399.40 418.00 L400.40 418.02 L401.40 418.03 L402.40 418.05 L403.40 418.06 L404.40 418.07 L405.40 418.09 L406.40 418.10 L407.40 418.11 L408.40 418.11 L409.40 418.12 L410.40 418.13 L411.40 418.14 L412.40 418.14 L413.40 418.14 L414.40 418.15 L415.40 418.15 L416.40 418.15 L417.40 418.16 L418.40 418.16 L419.40 418.16 L420.40 418.16 L421.40 418.16 L422.40 418.16 L423.40 418.16 L424.40 418.15 L425.40 418.15 L426.40 418.15 L427.40 418.15 L428.40 418.14 L429.40 418.14 L430.40 418.14 L431.40 418.13 L432.40 418.13 L433.40 418.13 L434.40 418.12 L435.40 418.12 L436.40 418.11 L437.40 418.11 L438.40 418.11 L439.40 418.10 L440.40 418.10 L441.40 418.09 L442.40 418.09 L443.40 418.09 L444.40 418.08 L445.40 418.08 L446.40 418.08 L447.40 418.08 L448.40 418.07 L449.40 418.07 L450.40 418.07 L451.40 418.06 L452.40 418.06 L453.40 418.06 L454.40 418.06 L455.40 418.06 L456.40 418.05 L457.40 418.05 L458.40 418.05 L459.40 418.05 L460.40 418.05 L461.40 418.04 L462.40 418.04 L463.40 418.04 L464.40 418.04 L465.40 418.04 L466.40 418.04 L467.40 418.04 L468.40 418.04 L469.40 418.04 L470.40 418.04 L471.40 418.03 L472.40 418.03 L473.40 418.03 L474.40 418.03 L475.40 418.03 L476.40 418.03 L477.40 418.03 L478.40 418.03 L479.40 418.03 L480.40 418.03 L481.40 418.03 L482.40 418.03 L483.40 418.03 L484.40 418.03 L485.40 418.03 L486.40 418.03 L487.40 418.04 L488.40 418.04 L489.40 418.04 L490.40 418.04 L491.40 418.04 L492.40 418.04 L493.40 418.04 L494.40 418.04 L495.40 418.04 L496.40 418.04 L497.40 418.04 L498.40 418.04 L499.40 418.05 L500.40 418.05 L501.40 418.05 L502.40 418.05 L503.40 418.05 L504.40 418.05 L505.40 418.05 L506.40 418.06 L507.40 418.06 L508.40 418.06 L509.40 418.06 L510.40 418.06 L511.40 418.06 L512.40 418.06 L513.40 418.07 L514.40 418.07 L515.40 418.07 L516.40 418.07 L517.40 418.07 L518.40 418.07 L519.40 418.08 L520.40 418.08 L521.40 418.08 L522.40 418.08 L523.40 418.08 L524.40 418.09 L525.40 418.09 L526.40 418.09 L527.40 418.09 L528.40 418.09 L529.40 418.10 L530.40 418.10 L531.40 418.10 L532.00 418.10"/>
</g>
<g font-family="Liberation Serif" font-size="20.6" fill="#000">
<text x="36.8" y="508" text-anchor="middle">50</text>
<text x="119.4" y="508" text-anchor="middle">100</text>
<text x="202.0" y="508" text-anchor="middle">150</text>
<text x="284.6" y="508" text-anchor="middle">200</text>
<text x="367.2" y="508" text-anchor="middle">250</text>
<text x="449.8" y="508" text-anchor="middle">300</text>
<text x="532.4" y="508" text-anchor="middle">350</text>
<text x="284.6" y="539.5" text-anchor="middle">Temperature (<tspan font-size="13" dy="-7">o</tspan><tspan dy="7">C)</tspan></text>
<text x="523.0" y="61.8" text-anchor="end">17 kJ/mol</text>
<text x="523.0" y="145.9" text-anchor="end">40 kJ/mol</text>
<text x="523.0" y="240.0" text-anchor="end">52 kJ/mol</text>
<text x="523.0" y="307.4" text-anchor="end">36 kJ/mol</text>
<text x="523.0" y="406.0" text-anchor="end">37 kJ/mol</text>
<text x="180.0" y="59.5">49 kJ/mol</text>
<text x="180.0" y="141.3">11 kJ/mol</text>
<text x="118.9" y="32.7">109</text>
<text x="159.1" y="32.7">C</text>
<text x="335.1" y="54.2">240</text>
<text x="376.5" y="54.2">C</text>
<text x="111.8" y="133.7">115</text>
<text x="152.5" y="133.7">C</text>
<text x="290.4" y="119.2">217</text>
<text x="332.3" y="119.2">C</text>
<text x="295.6" y="203.8">219</text>
<text x="336.7" y="203.8">C</text>
<text x="313.3" y="285.6">223</text>
<text x="355.1" y="285.6">C</text>
<text x="306.8" y="353.1">222</text>
<text x="348.9" y="353.1">C</text>
</g>
<g stroke="#000" stroke-width="0.9" fill="none">
<circle cx="156.2" cy="17.6" r="1.8"/>
<circle cx="373.9" cy="39.2" r="1.8"/>
<circle cx="148.7" cy="118.6" r="1.8"/>
<circle cx="329.5" cy="104.5" r="1.8"/>
<circle cx="334.3" cy="188.9" r="1.8"/>
<circle cx="352.4" cy="270.3" r="1.8"/>
<circle cx="345.6" cy="338.0" r="1.8"/>
</g>
<g font-family="Liberation Serif" font-size="20.2" font-weight="bold" fill="#000">
<text x="46.4" y="62.2">e)</text>
<text x="45.8" y="153.8">d)</text>
<text x="46.0" y="235.3">c)</text>
<text x="46.8" y="305.4">b)</text>
<text x="46.2" y="402.0">a)</text>
</g>
<g font-family="Liberation Serif" font-size="20.6" fill="#000">
<text transform="translate(17.7 55.5) rotate(-90)" text-anchor="middle">Exo</text>
<text transform="translate(17.7 236.0) rotate(-90)" text-anchor="middle">Heat flow</text>
<text transform="translate(17.7 418.8) rotate(-90)" text-anchor="middle">Endo</text>
</g>
<g stroke="#000" stroke-width="1.8" fill="none">
<path d="M10.1 155.4 V111 M4.9 122.4 L10.1 110 L15.3 122.4"/>
<path d="M10.1 311.6 V356.5 M4.9 344.4 L10.1 357.1 L15.3 344.4"/>
</g>
</svg>
</body></html>
